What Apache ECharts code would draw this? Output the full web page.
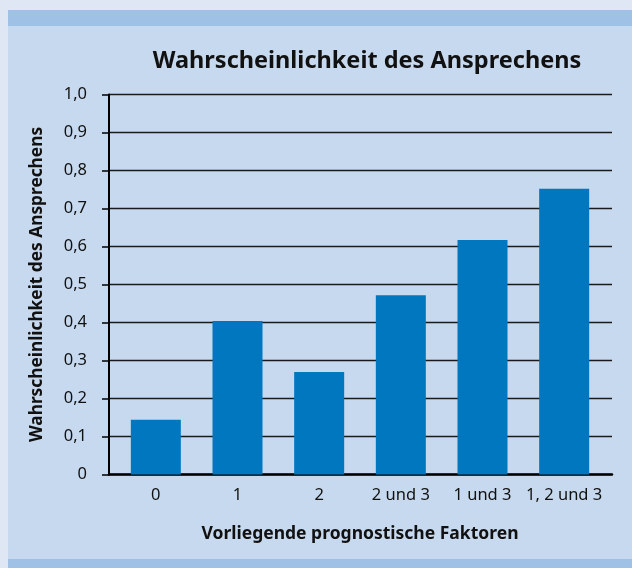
<!DOCTYPE html>
<html>
<head>
<meta charset="utf-8">
<script src="https://cdn.jsdelivr.net/npm/echarts@6/dist/echarts.min.js"></script>
<style>
  html, body { margin: 0; padding: 0; background: #dfe7f4; }
  #chart { width: 632px; height: 568px; }
</style>
</head>
<body>
<div id="chart"></div>
<script>
// Daten
const categories = ["0", "1", "2", "2 und 3", "1 und 3", "1, 2 und 3"];
const probabilities = [0.144, 0.404, 0.27, 0.472, 0.617, 0.752];
const yTickLabels = ["0", "0,1", "0,2", "0,3", "0,4", "0,5", "0,6", "0,7", "0,8", "0,9", "1,0"];

const chartTitle = "Wahrscheinlichkeit des Ansprechens";
const yAxisTitle = "Wahrscheinlichkeit des Ansprechens";
const xAxisTitle = "Vorliegende prognostische Faktoren";

const fontFamily = "'Noto Sans', 'Open Sans', sans-serif";
const textColor = "#111111";

const myChart = echarts.init(document.getElementById("chart"), null, { renderer: "canvas" });

const option = {
  backgroundColor: "transparent",
  animation: false,
  graphic: [
    // Panel + Bänder
    { type: "rect", z: -10, silent: true, shape: { x: 8, y: 10, width: 624, height: 558 }, style: { fill: "#c7d9ee" } },
    { type: "rect", z: -9, silent: true, shape: { x: 8, y: 10, width: 624, height: 16 }, style: { fill: "#a0c1e6" } },
    { type: "rect", z: -9, silent: true, shape: { x: 8, y: 559, width: 624, height: 9 }, style: { fill: "#a0c1e6" } },
    {
      type: "text", silent: true, x: 367, y: 61,
      style: {
        text: chartTitle, fill: textColor, font: "bold 23.5px " + fontFamily,
        textAlign: "center", textVerticalAlign: "middle"
      }
    }
  ],
  grid: [
    // Gitterlinien
    { left: 109, right: 20, top: 94.5, bottom: 93.5 },
    // Balken
    { left: 115, right: 27, top: 94.5, bottom: 93.5 }
  ],
  xAxis: [
    {
      type: "category", gridIndex: 0, data: categories,
      axisLine: { show: true, lineStyle: { color: "#000", width: 2.5 } },
      axisTick: { show: false }, axisLabel: { show: false }, splitLine: { show: false }
    },
    {
      type: "category", gridIndex: 1, data: categories,
      axisLine: { show: false }, axisTick: { show: false },
      axisLabel: { interval: 0, color: textColor, fontSize: 16.5, fontFamily: fontFamily, margin: 12 },
      name: xAxisTitle, nameLocation: "middle", nameGap: 51,
      nameTextStyle: { color: textColor, fontSize: 17.5, fontWeight: "bold", fontFamily: fontFamily }
    }
  ],
  yAxis: [
    {
      type: "value", gridIndex: 0, min: 0, max: 1, interval: 0.1,
      axisLine: { show: true, lineStyle: { color: "#000", width: 2 } },
      axisTick: { show: true, inside: false, length: 7, lineStyle: { color: "#000", width: 1.5 } },
      axisLabel: {
        color: textColor, fontSize: 16.5, fontFamily: fontFamily, margin: 22,
        formatter: function (v) { return yTickLabels[Math.round(v * 10)]; }
      },
      splitLine: { show: true, lineStyle: { color: "#1a1a1a", width: 1.3 } },
      name: yAxisTitle, nameLocation: "middle", nameGap: 63, nameRotate: 90,
      nameTextStyle: { color: textColor, fontSize: 17.3, fontWeight: "bold", fontFamily: fontFamily }
    },
    {
      type: "value", gridIndex: 1, min: 0, max: 1, interval: 0.1, show: false,
      splitLine: { show: false }
    }
  ],
  series: [
    {
      type: "bar", xAxisIndex: 1, yAxisIndex: 1,
      data: probabilities, barWidth: 50,
      itemStyle: { color: "#0077bf" }
    }
  ]
};

myChart.setOption(option);
</script>
</body>
</html>
